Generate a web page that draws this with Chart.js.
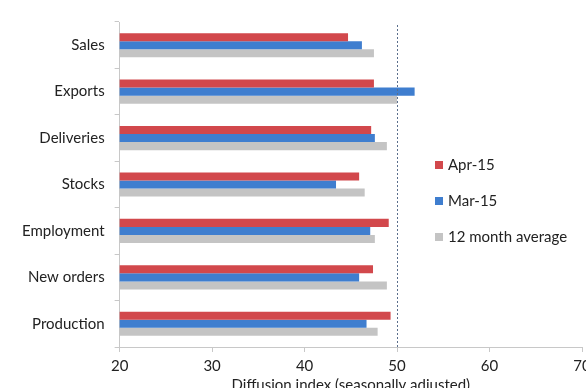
<!DOCTYPE html>
<html>
<head>
<meta charset="utf-8">
<script src="https://cdn.jsdelivr.net/npm/chart.js@4.4.0/dist/chart.umd.min.js"></script>
<style>
  html, body { margin: 0; padding: 0; background: #fff; overflow: hidden; }
  #wrap { position: relative; width: 600px; height: 388px; }
</style>
</head>
<body>
<div id="wrap"><canvas id="pmiChart"></canvas></div>
<script>
// 카테고리와 시리즈 값
const categories = ['Sales', 'Exports', 'Deliveries', 'Stocks', 'Employment', 'New orders', 'Production'];
const apr15 = [44.7, 47.5, 47.2, 45.9, 49.1, 47.4, 49.3];
const mar15 = [46.2, 51.9, 47.6, 43.4, 47.1, 45.9, 46.7];
const avg12 = [47.5, 50.0, 48.9, 46.5, 47.6, 48.9, 47.9];
const xTicks = [20, 30, 40, 50, 60, 70];
const refLine = 50;

const FONT = 'Lato, "Open Sans", sans-serif';
const TEXT = '#222';

// 50 기준 점선
const refLinePlugin = {
    id: 'refLine',
    afterDatasetsDraw(chart) {
        const { ctx, chartArea, scales } = chart;
        const x = Math.round(scales.x.getPixelForValue(refLine)) + 0.5;
        ctx.save();
        ctx.strokeStyle = '#5a6e8c';
        ctx.lineWidth = 1;
        ctx.setLineDash([2, 2]);
        ctx.beginPath();
        ctx.moveTo(x, chartArea.top + 3);
        ctx.lineTo(x, chartArea.bottom);
        ctx.stroke();
        ctx.restore();
    }
};

// 플롯 영역 안쪽에 그리는 범례
const insideLegend = {
    id: 'insideLegend',
    afterDraw(chart) {
        const { ctx } = chart;
        ctx.save();
        ctx.font = '15px ' + FONT;
        ctx.textBaseline = 'middle';
        chart.data.datasets.forEach((ds, i) => {
            const y = 165 + i * 36;
            ctx.fillStyle = ds.backgroundColor;
            ctx.fillRect(435, y - 4, 8, 8);
            ctx.fillStyle = TEXT;
            ctx.fillText(ds.label, 448, y);
        });
        ctx.restore();
    }
};

new Chart(document.getElementById('pmiChart'), {
    type: 'bar',
    data: {
        labels: categories,
        datasets: [
            { label: 'Apr-15', data: apr15, backgroundColor: '#d2484c' },
            { label: 'Mar-15', data: mar15, backgroundColor: '#3f7ecf' },
            { label: '12 month average', data: avg12, backgroundColor: '#c4c4c4' }
        ]
    },
    options: {
        indexAxis: 'y',
        responsive: true,
        maintainAspectRatio: false,
        animation: false,
        categoryPercentage: 0.52,
        barPercentage: 1.0,
        layout: { padding: { top: 22, right: 18, left: 12, bottom: -5 } },
        plugins: {
            legend: { display: false },
            tooltip: { enabled: false }
        },
        scales: {
            x: {
                min: xTicks[0],
                max: xTicks[xTicks.length - 1],
                afterBuildTicks(scale) { scale.ticks = xTicks.map(v => ({ value: v })); },
                grid: { drawOnChartArea: false, tickLength: 5, color: '#c8c8c8' },
                border: { color: '#c8c8c8' },
                ticks: { color: TEXT, font: { family: FONT, size: 15 }, padding: 5 },
                title: {
                    display: true,
                    text: 'Diffusion index (seasonally adjusted)',
                    color: TEXT,
                    font: { family: FONT, size: 15, lineHeight: 1 },
                    padding: { top: -2, bottom: 0 }
                }
            },
            y: {
                grid: { drawOnChartArea: false, tickLength: 5, color: '#c8c8c8', offset: true },
                border: { color: '#c8c8c8' },
                ticks: { color: TEXT, font: { family: FONT, size: 15 }, padding: 10 }
            }
        }
    },
    plugins: [refLinePlugin, insideLegend]
});
</script>
</body>
</html>
